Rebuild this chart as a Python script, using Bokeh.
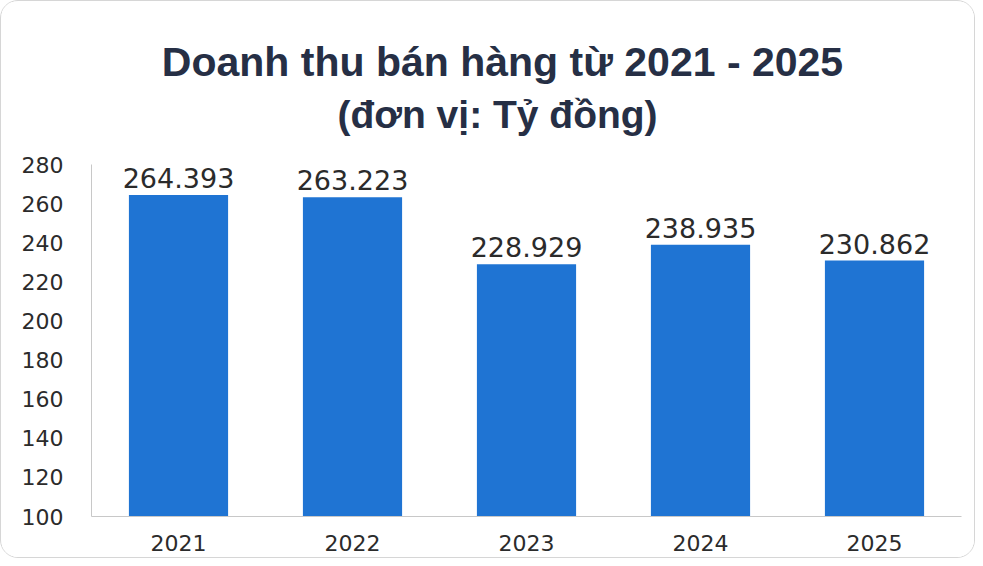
from bokeh.plotting import figure
from bokeh.models import ColumnDataSource, FixedTicker, Range1d
from bokeh.core.properties import value
from bokeh.embed import file_html
from bokeh.resources import INLINE

years = ["2021", "2022", "2023", "2024", "2025"]
revenue = [264.393, 263.223, 228.929, 238.935, 230.862]
labels = ["264.393", "263.223", "228.929", "238.935", "230.862"]
y_ticks = [100, 120, 140, 160, 180, 200, 220, 240, 260, 280]
title_text = "Doanh thu bán hàng từ 2021 - 2025"
subtitle_text = "(đơn vị: Tỷ đồng)"

W, H = 975, 558
FL, FR, FT, FB = 90, 960, 8, 515          # frame edges in page pixels
PX_PER_UNIT = (515 - 163) / (280 - 100)
y_top = 100 + (FB - FT) / PX_PER_UNIT


def y_at(py):
    """value on the y scale that sits at page pixel row py (for title placement)"""
    return 100 + (FB - py) / PX_PER_UNIT


src = ColumnDataSource(dict(x=years, top=revenue, label=labels))

p = figure(x_range=years, y_range=Range1d(100, y_top), width=W, height=H,
           output_backend="svg", toolbar_location=None,
           min_border_left=FL, min_border_right=W - FR, min_border_bottom=H - FB,
           min_border_top=FT,
           styles={"border": "1px solid #d6d6d6", "border-radius": "18px",
                   "overflow": "hidden"})

p.vbar(x="x", top="top", bottom=100, width=0.57, source=src,
       fill_color="#1f74d3", line_color=None)
p.text(x="x", y="top", text="label", source=src, text_align="center",
       text_baseline="bottom", y_offset=-7, text_font_size="27px",
       text_font=value("DejaVu Sans"), text_color="#2b2b2b")

center_cat = years[len(years) // 2]
p.text(x=[center_cat], y=[y_at(60)], text=[title_text], x_offset=-24,
       text_align="center", text_baseline="middle",
       text_font=value("Liberation Sans"), text_font_style="bold",
       text_font_size="41px", text_color="#262f45")
p.text(x=[center_cat], y=[y_at(113)], text=[subtitle_text], x_offset=-29,
       text_align="center", text_baseline="middle",
       text_font=value("Liberation Sans"), text_font_style="bold",
       text_font_size="39px", text_color="#262f45")

p.xgrid.grid_line_color = None
p.ygrid.grid_line_color = None
p.outline_line_color = None
p.yaxis.ticker = FixedTicker(ticks=y_ticks)
p.yaxis.bounds = (100, 280)
for ax in (p.xaxis[0], p.yaxis[0]):
    ax.axis_line_color = "#c8c8c8"
    ax.major_tick_line_color = None
    ax.minor_tick_line_color = None
    ax.major_label_text_font = "DejaVu Sans"
    ax.major_label_text_color = "#2b2b2b"
p.yaxis.major_label_text_font_size = "22px"
p.yaxis.major_label_standoff = 22
p.xaxis.major_label_text_font_size = "22px"
p.xaxis.major_label_standoff = 12
p.x_range.range_padding = 0.0

open("out.html", "w").write(file_html(p, INLINE))
